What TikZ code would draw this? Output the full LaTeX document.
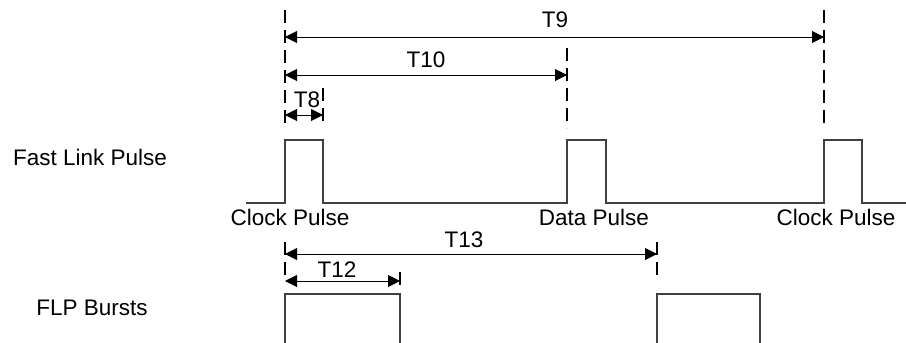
\documentclass[tikz,border=0pt]{standalone}
\usepackage{fontspec}
\setmainfont{Liberation Sans}
\usetikzlibrary{arrows.meta}
\begin{document}
\begin{tikzpicture}
[x=0.5pt,y=-0.5pt,
 t/.style={font=\fontsize{11.25}{13}\selectfont,inner sep=0pt},
 d/.style={dash pattern=on 6.5pt off 3.5pt,line width=0.6pt},
 a/.style={{Triangle[length=6pt,width=6pt]}-{Triangle[length=6pt,width=6pt]},line width=0.5pt},
 w/.style={line width=0.6pt,draw=black!75}]
\useasboundingbox (0,0) rectangle (906,343);
% signal names
\node[t] (flp) at (90,157) {Fast Link Pulse};
\node[t] (bur) at (92,308) {FLP Bursts};
% pulse names
\node[t] (clk1) at (290,217) {Clock Pulse};
\node[t] (dat) at (594,217) {Data Pulse};
\node[t] (clk2) at (836,217) {Clock Pulse};
% timing names
\node[t] (t9) at (555,20) {T9};
\node[t] (t10) at (426,60) {T10};
\node[t] (t8) at (307,100) {T8};
\node[t] (t13) at (464,240) {T13};
\node[t] (t12) at (337,270) {T12};
% ends of the arrows
\coordinate (t9a) at (285,37);
\coordinate (t9b) at (824,37);
\coordinate (t10a) at (285,75);
\coordinate (t10b) at (567,75);
\coordinate (t8a) at (285,115);
\coordinate (t8b) at (323,115);
\coordinate (t13a) at (285,254);
\coordinate (t13b) at (657,254);
\coordinate (t12a) at (285,281);
\coordinate (t12b) at (400,281);
% guide lines
\draw[d] (285,10) -- (285,128);
\draw[d] (567,48) -- (567,128);
\draw[d] (824,10) -- (824,128);
\draw[d] (323,88) -- (323,122);
\draw[d] (285,242) -- (285,277);
\draw[d] (657,242) -- (657,277);
\draw[d] (400,272) -- (400,287);
% arrows
\draw[a] (t9a) -- (t9b);
\draw[a] (t10a) -- (t10b);
\draw[a] (t8a) -- (t8b);
\draw[a] (t13a) -- (t13b);
\draw[a] (t12a) -- (t12b);
% waveforms
\draw[w] (246,203) -- (285,203) -- (285,140) -- (323,140) -- (323,203)
  -- (567,203) -- (567,140) -- (606,140) -- (606,203)
  -- (824,203) -- (824,140) -- (862,140) -- (862,203) -- (906,203);
\draw[w] (285,343) -- (285,294) -- (400,294) -- (400,343);
\draw[w] (657,343) -- (657,294) -- (760,294) -- (760,343);
\end{tikzpicture}
\end{document}
